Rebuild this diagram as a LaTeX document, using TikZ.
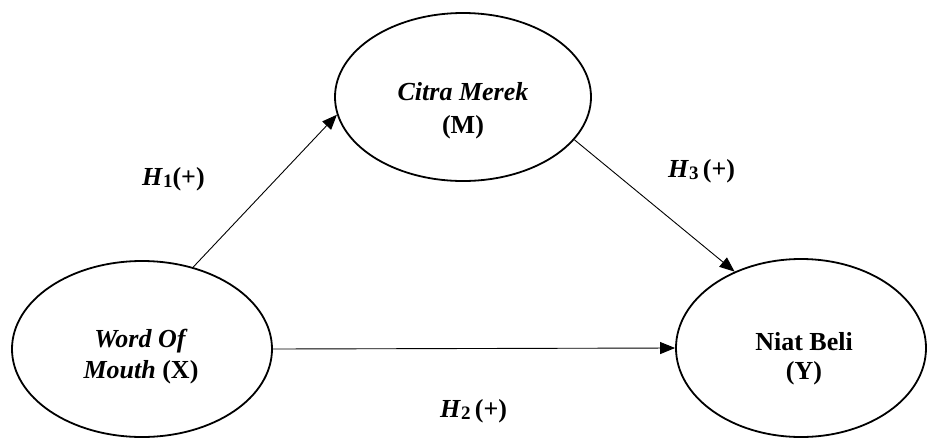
\documentclass[tikz,border=0pt]{standalone}
\usepackage{fontspec}
\setmainfont{Liberation Serif}
\usetikzlibrary{shapes.geometric,arrows.meta}
\newcommand{\hlab}[2]{\textbf{\textit{H}\raisebox{-0.25ex}{\fontsize{19}{19}\selectfont #1}#2(+)}}
\begin{document}
\begin{tikzpicture}[x=1pt,y=-1pt,
  var/.style={ellipse,draw,line width=1.8pt,inner sep=0pt},
  txt/.style={anchor=base,inner sep=0pt,font=\fontsize{26}{31}\selectfont\bfseries},
  link/.style={line width=0.9pt,-{Triangle[length=15pt,width=12pt]}},
  hyp/.style={anchor=base west,inner sep=0pt,font=\fontsize{26}{31}\selectfont}]
\useasboundingbox (0,0) rectangle (927,440);
\node[var,minimum width=260pt,minimum height=176pt] (X) at (142,349) {};
\node[var,minimum width=256pt,minimum height=168pt] (M) at (463,97) {};
\node[var,minimum width=250pt,minimum height=178pt] (Y) at (801,348) {};
\node[txt] (x1) at (141,347) {\textit{Word Of}};
\node[txt] (x2) at (141,378) {\textit{Mouth} (X)};
\node[txt] (m1) at (463,100) {\textit{Citra Merek}};
\node[txt] (m2) at (463,133) {(M)};
\node[txt] (y1) at (804,350) {Niat Beli};
\node[txt] (y2) at (804,379) {(Y)};
\draw[link] (X.58) -- (M.188);
\draw[link] (M.-21) -- (Y.131);
\draw[link] (X.east) -- (Y.west);
\node[hyp] (h1) at (142,185) {\hlab{1}{}};
\node[hyp] (h3) at (668,177) {\hlab{3}{\,}};
\node[hyp] (h2) at (440,417) {\hlab{2}{\,}};
\end{tikzpicture}
\end{document}
